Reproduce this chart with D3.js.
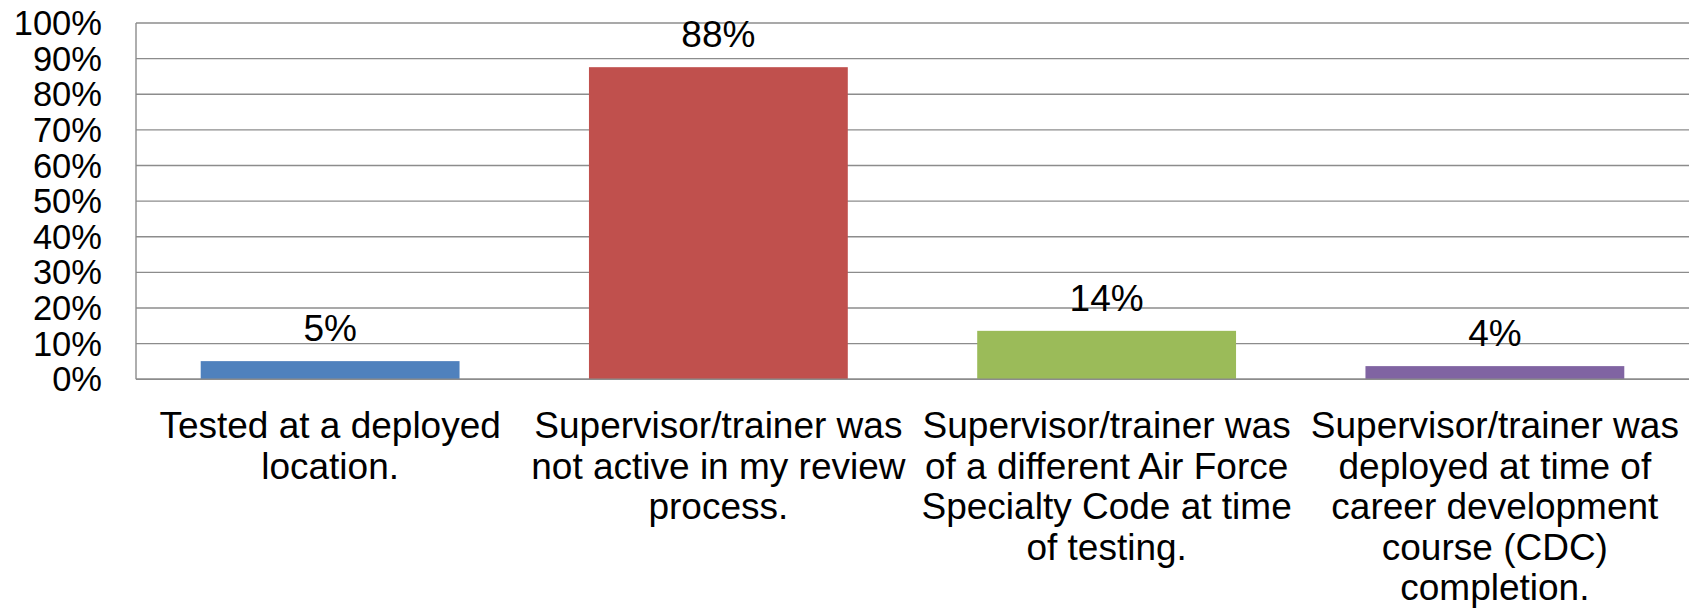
<!DOCTYPE html>
<html>
<head>
<meta charset="utf-8">
<script src="https://cdn.jsdelivr.net/npm/d3@7"></script>
<style>
  body { margin: 0; background: #fff; }
  text { font-family: "Liberation Sans", Arial, sans-serif; fill: #000; }
</style>
</head>
<body>
<div id="chart"></div>
<script>
// data
var categories = [
    "Tested at a deployed\nlocation.",
    "Supervisor/trainer was\nnot active in my review\nprocess.",
    "Supervisor/trainer was\nof a different Air Force\nSpecialty Code at time\nof testing.",
    "Supervisor/trainer was\ndeployed at time of\ncareer development\ncourse (CDC)\ncompletion."
];
var values = [0.051, 0.876, 0.136, 0.037];
var barColors = ["#4F81BD", "#C0504D", "#9BBB59", "#8064A2"];
var yTicks = [0, 0.1, 0.2, 0.3, 0.4, 0.5, 0.6, 0.7, 0.8, 0.9, 1.0];

var width = 1700;
var height = 613;
var plotLeft = 136, plotRight = 1689, plotTop = 23, plotBottom = 379.3;

var svg = d3.select("#chart")
    .append("svg")
    .attr("width", width)
    .attr("height", height);

var x = d3.scaleBand()
    .domain(d3.range(categories.length))
    .range([plotLeft, plotRight])
    .paddingInner(1 / 3)
    .paddingOuter(1 / 6);

var y = d3.scaleLinear().domain([0, 1]).range([plotBottom, plotTop]);

// gridlines
svg.append("g")
    .selectAll("line")
    .data(yTicks)
    .enter().append("line")
    .attr("x1", plotLeft)
    .attr("x2", plotRight)
    .attr("y1", function(d) { return y(d); })
    .attr("y2", function(d) { return y(d); })
    .attr("stroke", "#8c8c8c")
    .attr("stroke-width", 1.4);

// left axis line
svg.append("line")
    .attr("x1", plotLeft).attr("x2", plotLeft)
    .attr("y1", plotTop).attr("y2", plotBottom)
    .attr("stroke", "#8c8c8c")
    .attr("stroke-width", 1.4);

// y tick labels
svg.append("g")
    .selectAll("text")
    .data(yTicks)
    .enter().append("text")
    .attr("x", 102)
    .attr("y", function(d) { return y(d); })
    .attr("dy", "0.35em")
    .attr("text-anchor", "end")
    .style("font-size", "34.5px")
    .text(d3.format(".0%"));

// bars
svg.append("g")
    .selectAll("rect")
    .data(values)
    .enter().append("rect")
    .attr("x", function(d, i) { return x(i); })
    .attr("y", function(d) { return y(d); })
    .attr("width", x.bandwidth())
    .attr("height", function(d) { return y(0) - y(d); })
    .attr("fill", function(d, i) { return barColors[i]; });

// bottom axis line over the bars
svg.append("line")
    .attr("x1", plotLeft).attr("x2", plotRight)
    .attr("y1", y(0)).attr("y2", y(0))
    .attr("stroke", "#8c8c8c")
    .attr("stroke-width", 1.4);

// data labels
svg.append("g")
    .selectAll("text")
    .data(values)
    .enter().append("text")
    .attr("x", function(d, i) { return x(i) + x.bandwidth() / 2; })
    .attr("y", function(d) { return y(d) - 20; })
    .attr("text-anchor", "middle")
    .style("font-size", "37px")
    .text(d3.format(".0%"));

// category labels
var cat = svg.append("g")
    .selectAll("text")
    .data(categories)
    .enter().append("text")
    .attr("x", function(d, i) { return x(i) + x.bandwidth() / 2; })
    .attr("y", 438)
    .attr("text-anchor", "middle")
    .style("font-size", "37px");

cat.selectAll("tspan")
    .data(function(d, i) { return d.split("\n").map(function(s) { return { s: s, i: i }; }); })
    .enter().append("tspan")
    .attr("x", function(d) { return x(d.i) + x.bandwidth() / 2; })
    .attr("dy", function(d, j) { return j === 0 ? 0 : 40.5; })
    .text(function(d) { return d.s; });
</script>
</body>
</html>
